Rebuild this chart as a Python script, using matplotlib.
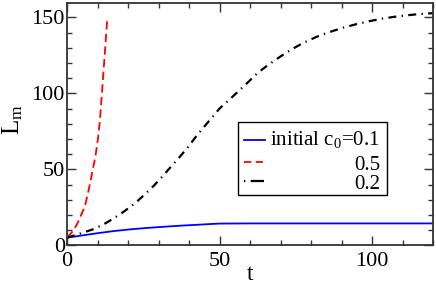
import matplotlib
matplotlib.use("Agg")
import matplotlib.pyplot as plt
from matplotlib.ticker import MultipleLocator
from matplotlib.lines import Line2D
from matplotlib.patches import Rectangle

plt.rcParams['font.family'] = ['Liberation Serif', 'DejaVu Serif']
plt.rcParams['mathtext.fontset'] = 'custom'
plt.rcParams['mathtext.rm'] = 'Liberation Serif'
plt.rcParams['mathtext.it'] = 'Liberation Serif'

# data
t_blue = [0, 5, 9.8, 15, 20.8, 26, 31.7, 37, 42.7, 47, 50, 60, 80, 100, 120]
L_blue = [5, 6.5, 7.9, 9.3, 10.5, 11.4, 12.2, 12.9, 13.5, 14.0, 14.3, 14.4, 14.4, 14.4, 14.4]

t_red = [0, 1, 2.2, 3.3, 4.4, 5.3, 6.1, 7.1, 8.2, 9.3, 10.2, 10.8, 11.6, 12.4, 13.2]
L_red = [5, 7.2, 10, 14, 18.8, 23, 27.6, 36.4, 47.4, 58.3, 71, 82.4, 104.3, 126.3, 149.3]

t_black = [0, 4, 8.8, 12, 15.4, 19, 22.5, 25.5, 28.7, 31.5, 34.2, 37, 39.6, 42, 44.5,
           47.3, 50, 53.3, 56.5, 59.7, 62.5, 66, 69.7, 73.5, 77.4, 81.8, 86.1, 90.5,
           94.9, 99.3, 103.6, 108, 112.4, 116, 120]
L_black = [5, 7.5, 10.7, 13.8, 17.8, 22.7, 28, 33.5, 39.7, 45.8, 52, 58.3, 64.5, 70.8, 77,
           83.5, 90, 96, 102, 108, 113.5, 118.8, 123.9, 128.8, 133.2, 137.2, 140.4, 143.2,
           145.6, 147.6, 149.3, 150.6, 151.6, 152.3, 152.8]

labels = ["initial c$_0$=0.1", "0.5", "0.2"]

W, H = 436, 286
fig = plt.figure(figsize=(W/100, H/100), dpi=100)
ax = fig.add_axes([67/W, (H-245.3)/H, 366/W, 242.3/H])

blue_style = dict(color='#0000ff', lw=1.3)
red_style = dict(color='#ff0000', lw=1.3, dashes=(4.6, 2.4))
black_style = dict(color='black', lw=1.6, dashes=(3.6, 2.4, 0.6, 2.4))

ax.plot(t_blue, L_blue, **blue_style)
ax.plot(t_red, L_red, **red_style)
ax.plot(t_black, L_black, **black_style)

ax.set_xlim(0, 120)
ax.set_ylim(0, 159.5)
ax.xaxis.set_major_locator(MultipleLocator(50))
ax.xaxis.set_minor_locator(MultipleLocator(10))
ax.yaxis.set_major_locator(MultipleLocator(50))
ax.yaxis.set_minor_locator(MultipleLocator(10))
ax.tick_params(which='both', direction='in', top=True, right=True, labelsize=16,
               color='#333333', width=1.0)
ax.tick_params(axis='x', which='major', pad=5)
ax.tick_params(axis='y', which='major', pad=1.5)
ax.tick_params(which='major', length=6.5)
ax.tick_params(which='minor', length=3.6)
for s in ax.spines.values():
    s.set_linewidth(1.3)
    s.set_color('#333333')

fig.text(250/W, 1 - 274/H, 't', fontsize=17, ha='center', va='center')
fig.text(13/W, 1 - 120/H, 'L$_\\mathrm{m}$', fontsize=18, ha='center', va='center',
         rotation=90)

# legend (drawn manually, figure pixel coordinates -> figure fraction)
def fx(px):
    return px / W

def fy(py):
    return 1 - py / H

fig.patches.append(Rectangle((fx(238), fy(194.7)), fx(386.7) - fx(238), fy(122) - fy(194.7),
                             transform=fig.transFigure, fill=True, facecolor='white',
                             edgecolor='black', lw=1.0, zorder=5))
handle_y = [140.3, 162.3, 181.3]
text_base = [144.7, 169.7, 188.7]
styles = [blue_style, red_style, black_style]
for st, hy, tb, lab in zip(styles, handle_y, text_base, labels):
    st2 = dict(st)
    if 'dashes' in st2:
        if st2['color'] == 'black':
            st2['dashes'] = (0.6, 2.4, 6, 2)
        else:
            st2['dashes'] = (4.0, 2.5)
    fig.lines.append(Line2D([fx(244), fx(264.7)], [fy(hy), fy(hy)],
                            transform=fig.transFigure, zorder=6, **st2))
    fig.text(fx(380), fy(tb), lab, fontsize=15, ha='right', va='baseline', zorder=6)

fig.savefig('out.png', dpi=100)
